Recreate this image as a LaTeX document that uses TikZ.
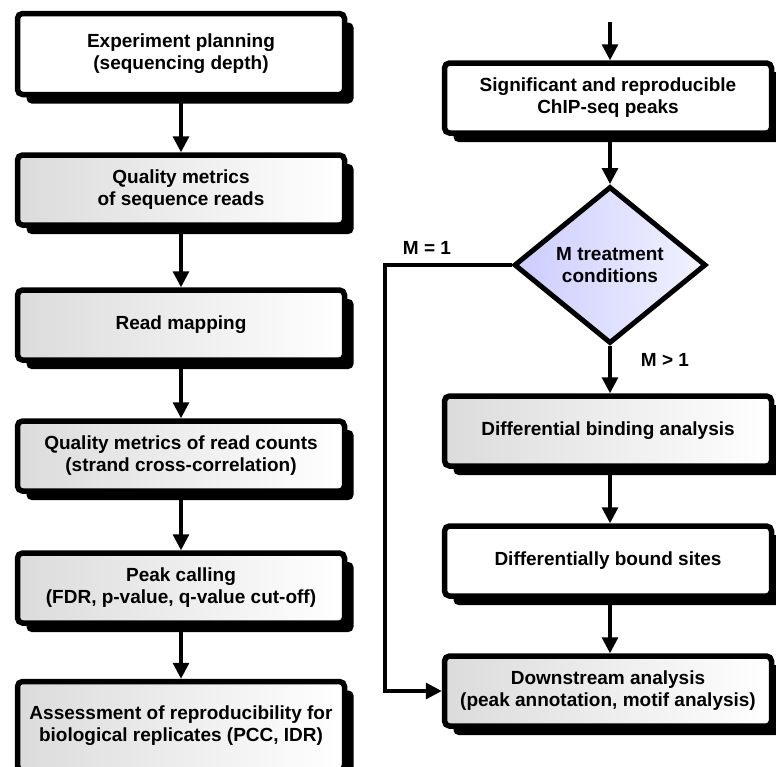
\documentclass[tikz,border=0pt]{standalone}
\usepackage{fontspec}
\setmainfont{Liberation Sans}
\usetikzlibrary{shapes.geometric,arrows.meta,shadows}

\tikzset{
  stepbox/.style={draw, line width=5.5pt, rounded corners=5pt, fill=white,
    minimum width=327pt, minimum height=70pt, align=center,
    font=\bfseries\fontsize{19}{22}\selectfont,
    drop shadow={shadow xshift=9pt, shadow yshift=-9pt, fill=black, opacity=1}},
  graybox/.style={stepbox, left color=gray!28, middle color=gray!55, right color=white},
  choice/.style={diamond, draw, line width=5pt, inner sep=0pt,
    minimum width=192pt, minimum height=157pt, align=center,
    left color=blue!20, middle color=blue!30, right color=blue!5,
    font=\bfseries\fontsize{19}{22}\selectfont},
  flow/.style={line width=3.2pt, -{Triangle[length=16pt,width=16pt]}},
  cond/.style={font=\bfseries\fontsize{19}{22}\selectfont}
}

\begin{document}
\begin{tikzpicture}[x=1pt, y=-1pt]
  \useasboundingbox (0,0) rectangle (776,766);
  %%%%%%%%%%%%%The left column%%%%%%%%%%%%%%%%%%%%%%
  \node[stepbox, minimum height=81pt] (plan) at (181,54) {Experiment planning\\(sequencing depth)};
  \node[graybox] (qreads) at (181,190) {Quality metrics\\of sequence reads};
  \node[graybox] (map) at (181,325) {Read mapping};
  \node[graybox] (qcounts) at (181,456) {Quality metrics of read counts\\(strand cross-correlation)};
  \node[graybox] (peak) at (181,588) {Peak calling\\(FDR, p-value, q-value cut-off)};
  \node[graybox, minimum height=89pt] (repro) at (181,726) {Assessment of reproducibility for\\biological replicates (PCC, IDR)};

  \draw[flow] (plan) -- (qreads);
  \draw[flow] (qreads) -- (map);
  \draw[flow] (map) -- (qcounts);
  \draw[flow] (qcounts) -- (peak);
  \draw[flow] (peak) -- (repro);

  %%%%%%%%%%%%%The right column%%%%%%%%%%%%%%%%%%%%%
  \coordinate (in) at (610,22);
  \node[stepbox] (sig) at (608,98) {Significant and reproducible\\ChIP-seq peaks};
  \node[choice] (cond) at (610,265) {M treatment\\conditions};
  \node[graybox] (diff) at (608,431) {Differential binding analysis};
  \node[stepbox] (bound) at (608,561) {Differentially bound sites};
  \node[graybox] (down) at (608,691) {Downstream analysis\\(peak annotation, motif analysis)};

  \draw[flow] (in) -- (sig.north -| in);
  \draw[flow] (sig.south -| in) -- (cond);
  \draw[flow] (cond) -- (diff.north -| cond);
  \draw[flow] (diff.south -| cond) -- (bound.north -| cond);
  \draw[flow] (bound.south -| cond) -- (down.north -| cond);
  \draw[flow] (cond.west) -- (385,265) |- (down.west);

  \node[cond] (one) at (427,248) {M = 1};
  \node[cond] (more) at (665,360) {M > 1};
\end{tikzpicture}
\end{document}
